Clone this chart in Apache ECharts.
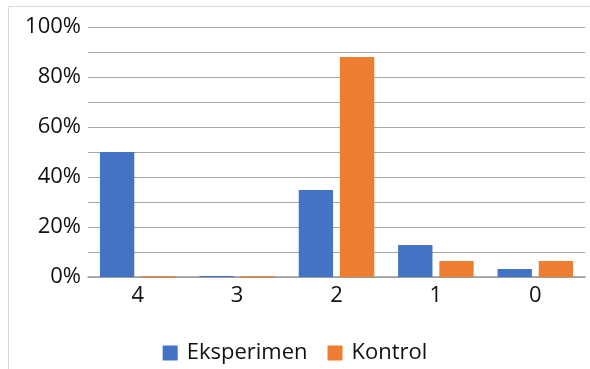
<!DOCTYPE html>
<html>
<head>
<meta charset="utf-8">
<script src="https://cdn.jsdelivr.net/npm/echarts@6/dist/echarts.min.js"></script>
<style>
  html, body { margin: 0; padding: 0; background: #fff; }
  #chart { width: 590px; height: 369px; }
</style>
</head>
<body>
<div id="chart"></div>
<script>
// Score categories and the share of students in each group (percent)
const categories = ['4', '3', '2', '1', '0'];
const eksperimen = [50, 0.4, 34.8, 12.8, 3.2];
const kontrol = [0.4, 0.4, 88, 6.4, 6.4];
const seriesNames = ['Eksperimen', 'Kontrol'];

const FONT = '"Open Sans", sans-serif';
const chart = echarts.init(document.getElementById('chart'), null, { renderer: 'canvas' });

chart.setOption({
  animation: false,
  backgroundColor: '#fff',
  color: ['#4472C4', '#ED7D31'],
  graphic: [{
    type: 'rect',
    shape: { x: 8.5, y: 6.5, width: 700, height: 500 },
    style: { fill: 'none', stroke: '#d9d9d9', lineWidth: 1 },
    silent: true,
    z: -10
  }],
  grid: { left: 88, right: 5, top: 27, bottom: 92, containLabel: false },
  legend: {
    data: seriesNames,
    left: 'center',
    top: 337,
    itemWidth: 15,
    itemHeight: 15,
    itemGap: 20,
    icon: 'rect',
    textStyle: { fontFamily: FONT, fontSize: 22, color: '#111', padding: [0, 0, 0, 4] }
  },
  xAxis: {
    type: 'category',
    data: categories,
    axisLine: { lineStyle: { color: '#999', width: 1.5 } },
    axisTick: { show: false },
    axisLabel: { fontFamily: FONT, fontSize: 22, color: '#111', margin: 8 }
  },
  yAxis: {
    type: 'value',
    min: 0,
    max: 100,
    interval: 10,
    axisLine: { show: false },
    axisTick: { show: false },
    splitLine: { lineStyle: { color: '#a6a6a6', width: 1.2 } },
    axisLabel: {
      fontFamily: FONT, fontSize: 22, color: '#111', margin: 7,
      formatter: v => (v % 20 === 0 ? v + '%' : '')
    }
  },
  series: [
    { name: seriesNames[0], type: 'bar', data: eksperimen, barGap: '20%', barCategoryGap: '24%' },
    { name: seriesNames[1], type: 'bar', data: kontrol, barGap: '20%', barCategoryGap: '24%' }
  ]
});
</script>
</body>
</html>
